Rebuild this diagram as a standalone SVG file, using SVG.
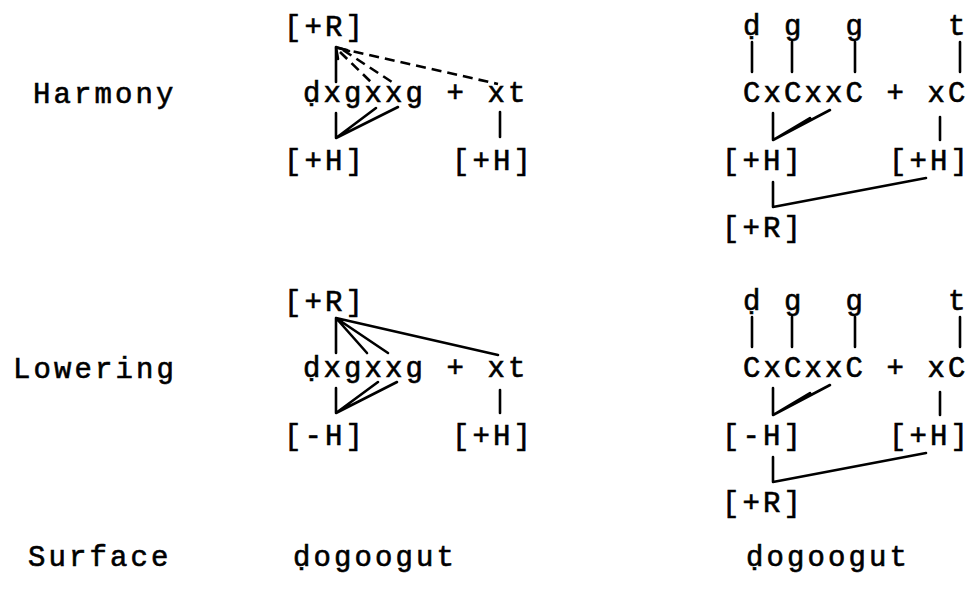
<svg xmlns="http://www.w3.org/2000/svg" width="973" height="590" viewBox="0 0 973 590">
<style>
.t{font-family:"Liberation Mono","DejaVu Sans Mono",monospace;font-size:29px;letter-spacing:3.1px;fill:#000;stroke:#000;stroke-width:0.6}
.c{stroke:#000;stroke-width:2.6;fill:none;stroke-linecap:round;stroke-linejoin:round}
.d{stroke-dasharray:10 6;stroke-linecap:butt}
</style>
<rect width="973" height="590" fill="#fff"/>
<g id="labels">
<text class="t" x="33" y="103">Harmony</text>
<text class="t" x="13" y="378">Lowering</text>
<text class="t" x="28" y="566">Surface</text>
</g>
<g id="harmony-left">
<g id="hl-R"><text class="t" x="284" y="36">[+R]</text></g>
<g id="hl-word"><text class="t" x="303" y="102">&#x1E0D;xgxxg + xt</text></g>
<g id="hl-H1"><text class="t" x="284" y="170">[+H]</text></g>
<g id="hl-H2"><text class="t" x="452" y="170">[+H]</text></g>
</g>
<g id="harmony-right">
<g id="hr-top"><text class="t" x="743 784 845.5 948" y="35">&#x1E0D;ggt</text></g>
<g id="hr-word"><text class="t" x="743" y="102">CxCxxC + xC</text></g>
<g id="hr-H1"><text class="t" x="722" y="170">[+H]</text></g>
<g id="hr-H2"><text class="t" x="889" y="170">[+H]</text></g>
<g id="hr-R"><text class="t" x="722" y="237">[+R]</text></g>
</g>
<g id="lowering-left">
<g id="ll-R"><text class="t" x="284" y="311">[+R]</text></g>
<g id="ll-word"><text class="t" x="303" y="377">&#x1E0D;xgxxg + xt</text></g>
<g id="ll-H1"><text class="t" x="284" y="445">[-H]</text></g>
<g id="ll-H2"><text class="t" x="452" y="445">[+H]</text></g>
</g>
<g id="lowering-right">
<g id="lr-top"><text class="t" x="743 784 845.5 948" y="310">&#x1E0D;ggt</text></g>
<g id="lr-word"><text class="t" x="743" y="377">CxCxxC + xC</text></g>
<g id="lr-H1"><text class="t" x="722" y="445">[-H]</text></g>
<g id="lr-H2"><text class="t" x="889" y="445">[+H]</text></g>
<g id="lr-R"><text class="t" x="722" y="512">[+R]</text></g>
</g>
<g id="surface">
<text class="t" x="293" y="566">&#x1E0D;ogoogut</text>
<text class="t" x="746" y="566">&#x1E0D;ogoogut</text>
</g>
<g id="connectors">
<!-- Harmony left -->
<path class="c" d="M336,48 V82"/>
<path class="c d" d="M338,48 L498,84"/>
<path class="c d" d="M340,52 L371,82"/>
<path class="c d" d="M343,50 L392,82"/>
<path class="c" d="M349,51 L336,47 L338,59"/>
<path class="c" d="M336,113 V138 L376,108 M336,138 L398,107"/>
<path class="c" d="M500,112 V137"/>
<!-- Harmony right -->
<path class="c" d="M752,42 V72 M792,42 V72 M855,42 V72 M960,42 V72"/>
<path class="c" d="M773,113 V140 L810,118 M773,140 L830,110"/>
<path class="c" d="M940,117 V140"/>
<path class="c" d="M773,182 V207 L926,178"/>
<!-- Lowering left -->
<path class="c" d="M336,318 V353 M336,318 L367,353 M336,318 L388,353 M336,318 L498,355"/>
<path class="c" d="M336,388 V413 L378,382 M336,413 L397,382"/>
<path class="c" d="M500,390 V413"/>
<!-- Lowering right -->
<path class="c" d="M752,317 V347 M792,317 V347 M855,317 V347 M960,317 V347"/>
<path class="c" d="M773,388 V415 L810,393 M773,415 L830,385"/>
<path class="c" d="M940,392 V415"/>
<path class="c" d="M773,457 V482 L926,453"/>
</g>
</svg>
